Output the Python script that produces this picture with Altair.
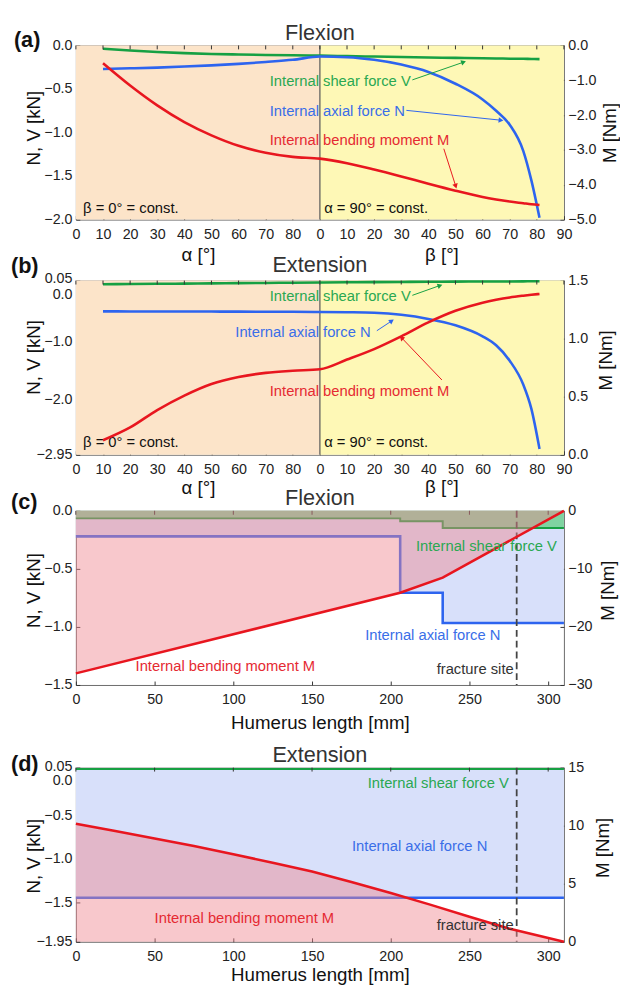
import math
import altair as alt
import pandas as pd

FONT = "Liberation Sans"
W, H = 496, 177

# ---------------- data ----------------
alpha_deg = [10, 20, 30, 40, 50, 60, 70, 80, 90]
beta_deg = [0, 10, 20, 30, 40, 50, 60, 65, 70, 75, 78, 81]

# (a) Flexion, angle study
flex_V_alpha = [-0.037, -0.058, -0.075, -0.088, -0.098, -0.104, -0.109, -0.113, -0.116]
flex_V_beta = [-0.118, -0.123, -0.128, -0.133, -0.138, -0.143, -0.148, -0.150, -0.152, -0.154, -0.155, -0.157]
flex_N_alpha = [-0.27, -0.263, -0.255, -0.243, -0.229, -0.212, -0.19, -0.165, -0.128]
flex_N_beta = [-0.128, -0.135, -0.165, -0.22, -0.305, -0.44, -0.62, -0.75, -0.91, -1.21, -1.55, -1.98]
flex_M_alpha = [-0.51, -1.15, -1.72, -2.2, -2.58, -2.88, -3.08, -3.2, -3.25]
flex_M_beta = [-3.25, -3.38, -3.56, -3.76, -3.97, -4.17, -4.35, -4.42, -4.48, -4.53, -4.56, -4.58]

# (b) Extension, angle study
ext_V_alpha = [-0.012, -0.009, -0.006, -0.002, 0.002, 0.006, 0.01, 0.014, 0.018]
ext_V_beta = [0.018, 0.021, 0.024, 0.027, 0.03, 0.032, 0.034, 0.035, 0.036, 0.037, 0.038, 0.04]
ext_N_alpha = [-0.48, -0.481, -0.482, -0.483, -0.484, -0.485, -0.487, -0.488, -0.49]
ext_N_beta = [-0.49, -0.495, -0.505, -0.54, -0.61, -0.72, -0.91, -1.065, -1.33, -1.74, -2.16, -2.85]
ext_M_alpha = [0.125, 0.235, 0.385, 0.51, 0.61, 0.67, 0.705, 0.724, 0.737]
ext_M_beta = [0.737, 0.82, 0.91, 1.02, 1.14, 1.24, 1.31, 1.335, 1.355, 1.37, 1.378, 1.385]

# (c) Flexion along humerus
flex_len_mm = [0, 206, 233, 310]
flex_V_len = [-0.065, -0.09, -0.147, -0.147]
flex_N_len = [-0.22, -0.706, -0.966, -0.966]
flex_M_len = [-28.0, -14.1, -11.5, 0.0]

# (d) Extension along humerus
ext_force_mm = [0, 310]
ext_V_len = [0.035, 0.035]
ext_N_len = [-1.445, -1.445]
ext_moment_mm = [0, 25, 50, 75, 100, 125, 150, 175, 200, 225, 250, 275, 310]
ext_M_len = [10.17, 9.55, 8.9, 8.25, 7.55, 6.8, 6.05, 5.15, 4.2, 3.2, 2.15, 1.15, 0.0]

fracture_mm = 280
angle_ticks = list(range(0, 181, 10))
mm_ticks = [0, 50, 100, 150, 200, 250, 300]

# ---------------- style ----------------
GREEN, BLUE, RED = "#16a043", "#2d64ef", "#e8161f"
GREEN_T, BLUE_T, RED_T = "#2aa852", "#3a6ee8", "#e52a32"
PEACH, YELLOW = "#fce4c9", "#fef8b6"
G_AREA, B_AREA, R_AREA = "#7fd3a1", "#d8e0fa", "#ef858f"


def axis_x(values, title, title_x, title_y, label_expr):
    return alt.Axis(orient="bottom", values=values, title=title, titleX=title_x, titleY=title_y,
                    titleAlign="center", titleBaseline="alphabetic", titleFont=FONT,
                    titleFontSize=19, titleFontWeight="normal", titleColor="#111",
                    labelFont=FONT, labelFontSize=14.5, labelColor="#222", labelPadding=8,
                    labelFlush=False, labelOverlap=False, labelExpr=label_expr,
                    tickSize=4, tickColor="#333", tickWidth=1, offset=-4,
                    domain=False, grid=False)


def axis_y(orient, values, title, title_x, title_dy, label_expr, label_baseline=None,
           label_offset=None):
    kw = dict(orient=orient, values=values, title=title, titleAngle=270, titleX=title_x,
              titleY=H / 2 + title_dy, titleAlign="center", titleBaseline="middle",
              titleFont=FONT, titleFontSize=19, titleFontWeight="normal", titleColor="#111",
              labelFont=FONT, labelFontSize=14.5, labelColor="#222", labelPadding=4,
              labelOverlap=False, labelExpr=label_expr, tickSize=4, tickColor="#333",
              tickWidth=1, offset=-4, domain=False, grid=False)
    if label_baseline is not None:
        kw["labelBaseline"] = label_baseline
    if label_offset is not None:
        kw["labelOffset"] = label_offset
    return alt.Axis(**kw)


def lin(domain):
    return alt.Scale(domain=domain, nice=False, zero=False)


class Ctx:
    def __init__(self, scX, axX, scY, axY):
        self.scX, self.axX, self.scY, self.axY = scX, axX, scY, axY

    def X(self, f):
        return alt.X(f + ":Q", scale=self.scX, axis=self.axX)

    def Y(self, f):
        return alt.Y(f + ":Q", scale=self.scY, axis=self.axY)


def line(c, df, yf, color, width, interp="monotone"):
    return alt.Chart(df).mark_line(color=color, strokeWidth=width, interpolate=interp).encode(
        x=c.X("x"), y=c.Y(yf))


def area(c, df, yf, y2f, color, opacity, interp="linear"):
    return alt.Chart(df).mark_area(color=color, opacity=opacity, interpolate=interp).encode(
        x=c.X("x"), y=c.Y(yf), y2=alt.Y2(y2f))


def texts(c, rows, color, align="left", size=15):
    return alt.Chart(pd.DataFrame(rows)).mark_text(
        align=align, baseline="middle", font=FONT, fontSize=size, color=color).encode(
        x=c.X("x"), y=c.Y("y"), text="t:N")


def arrow(c, xa, ya, xb, yb, color, sx, sy):
    ang = math.degrees(math.atan2(-(yb - ya) * sy, (xb - xa) * sx)) % 360
    df = pd.DataFrame({"xa": [xa], "ya": [ya], "x": [xb], "y": [yb], "ang": [ang]})
    rule = alt.Chart(df).mark_rule(color=color, strokeWidth=1).encode(
        x=c.X("xa"), x2=alt.X2("x"), y=c.Y("ya"), y2=alt.Y2("y"))
    head = alt.Chart(df).mark_point(shape="triangle-right", filled=True, size=32,
                                    color=color, opacity=1, strokeWidth=0).encode(
        x=c.X("x"), y=c.Y("y"), angle=alt.Angle("ang:Q", scale=None))
    return [rule, head]


def top_ticks(c, ticks):
    return alt.Chart(pd.DataFrame({"x": ticks})).mark_rule(color="#333", strokeWidth=1).encode(
        x=c.X("x"), y=alt.value(0), y2=alt.value(4))


def vrule(c, xv, color, dash=None, width=1.0):
    kw = dict(color=color, strokeWidth=width)
    if dash is not None:
        kw["strokeDash"] = dash
    return alt.Chart(pd.DataFrame({"x": [xv]})).mark_rule(**kw).encode(x=c.X("x"))


def label(txt, xpx, ypx, size, weight="normal", color="#111", align="left"):
    return alt.Chart(pd.DataFrame({"t": [txt]})).mark_text(
        align=align, baseline="alphabetic", font=FONT, fontSize=size, fontWeight=weight,
        color=color).encode(x=alt.value(xpx), y=alt.value(ypx), text="t:N")


def angle_df(Va, Vb, Na, Nb, Ma, Mb):
    xs = alpha_deg + [90 + b for b in beta_deg[1:]]
    return pd.DataFrame({"x": xs, "V": Va + Vb[1:], "N": Na + Nb[1:], "M": Ma + Mb[1:]})


ANGLE_EXPR = "format(datum.value < 90 ? datum.value : datum.value - 90, 'd')"


def angle_panel(tag, title, df, yL_dom, yL_vals, yL_expr, yL_base, yL_off, yR_dom, yR_vals,
                tdyL, txR, tdyR, x_title_y, tag_dy, title_dy, const_y, notes, arrows):
    scX = lin([0, 180])
    axX = axis_x(angle_ticks, "α [°]", W * 0.25, x_title_y, ANGLE_EXPR)
    L = Ctx(scX, axX, lin(yL_dom), axis_y("left", yL_vals, "N, V  [kN]", -47, tdyL, yL_expr,
                                          yL_base, yL_off))
    R = Ctx(scX, axX, lin(yR_dom), axis_y("right", yR_vals, "M [Nm]", txR, tdyR,
                                         "format(datum.value, '.1f')"))
    bg = pd.DataFrame({"x": [0, 90], "x2": [90, 180], "y0": [yL_dom[0]] * 2,
                       "y1": [yL_dom[1]] * 2, "c": [PEACH, YELLOW]})
    left = [
        alt.Chart(bg).mark_rect().encode(x=L.X("x"), x2=alt.X2("x2"), y=L.Y("y0"),
                                          y2=alt.Y2("y1"), color=alt.Color("c:N", scale=None)),
        vrule(L, 90, "#555", width=1.2),
        line(L, df, "V", GREEN, 2.6),
        line(L, df, "N", BLUE, 2.6),
        top_ticks(L, angle_ticks),
        texts(L, [{"x": 2.65, "y": const_y, "t": "β = 0° = const."},
                  {"x": 91.6, "y": const_y, "t": "α = 90° = const."}], "#111"),
        alt.Chart(pd.DataFrame({"x": [135], "t": ["β [°]"]})).mark_text(
            align="center", baseline="alphabetic", font=FONT, fontSize=19, color="#111").encode(
            x=L.X("x"), y=alt.value(H + x_title_y - 4), text="t:N"),
        label(tag, -66 if tag != "(a)" else -63, tag_dy, 22, "bold"),
        label(title, W / 2, title_dy, 22, color="#333", align="center"),
    ]
    sx, sy = W / 180.0, H / (yR_dom[1] - yR_dom[0])
    right = [line(R, df, "M", RED, 2.6)]
    for (rows, col) in notes:
        right.append(texts(R, rows, col))
    for (xa, ya, xb, yb, col) in arrows:
        right += arrow(R, xa, ya, xb, yb, col, sx, sy)
    return alt.layer(alt.layer(*left), alt.layer(*right)).resolve_scale(y="independent").properties(
        width=W, height=H)


def length_panel(tag, title, fdf, mdf, yL_dom, yL_vals, yL_expr, yL_base, yL_off, yR_dom, yR_vals,
                 tdyL, txR, tdyR, x_title_y, tag_dy, title_dy, notes, interp):
    scX = lin([0, 310])
    axX = axis_x(mm_ticks, "Humerus length [mm]", W / 2, x_title_y, "format(datum.value, 'd')")
    L = Ctx(scX, axX, lin(yL_dom), axis_y("left", yL_vals, "N, V  [kN]", -47, tdyL, yL_expr,
                                          yL_base, yL_off))
    R = Ctx(scX, axX, lin(yR_dom), axis_y("right", yR_vals, "M [Nm]", txR, tdyR,
                                         "format(datum.value, 'd')"))
    left = [
        area(L, fdf, "V", "zero", G_AREA, 1, interp),
        area(L, fdf, "N", "V", B_AREA, 1, interp),
        line(L, fdf, "V", GREEN, 2.0, interp),
        line(L, fdf, "N", BLUE, 2.6, interp),
        top_ticks(L, mm_ticks),
        vrule(L, fracture_mm, "#444", dash=[7, 4], width=1.8),
        label(tag, -66, tag_dy, 22, "bold"),
        label(title, W / 2, title_dy, 22, color="#333", align="center"),
    ]
    right = [
        area(R, mdf, "M", "zero", R_AREA, 0.45, "linear"),
        line(R, mdf, "M", RED, 2.6, "linear"),
    ]
    for (rows, col, al) in notes:
        right.append(texts(R, rows, col, al))
    return alt.layer(alt.layer(*left), alt.layer(*right)).resolve_scale(y="independent").properties(
        width=W, height=H)


zero_top = {"condition": {"test": "datum.value == 0", "value": "top"}, "value": "middle"}
off_b = {"condition": [{"test": "datum.value == 0", "value": 4},
                       {"test": "datum.value == 0.05", "value": -2.5}], "value": 0}
off_d = {"condition": [{"test": "datum.value == 0", "value": 2},
                       {"test": "datum.value == 0.05", "value": -1.5}], "value": 0}

# ---- panel (a)
df_a = angle_df(flex_V_alpha, flex_V_beta, flex_N_alpha, flex_N_beta, flex_M_alpha, flex_M_beta)
p_a = angle_panel(
    "(a)", "Flexion", df_a, [-2, 0], [-2, -1.5, -1, -0.5, 0], "format(datum.value, '.1f')", None, None,
    [-5, 0], [-5, -4, -3, -2, -1, 0], -5, 50, 0, 46, 2, -6, -1.864,
    [([{"x": 71.5, "y": -1.017, "t": "Internal shear force V"}], GREEN_T),
     ([{"x": 71.5, "y": -1.893, "t": "Internal axial force N"}], BLUE_T),
     ([{"x": 71.5, "y": -2.712, "t": "Internal bending moment M"}], RED_T)],
    [(124.1, -0.989, 143.0, -0.48, GREEN), (121.9, -1.864, 156.8, -2.147, BLUE),
     (135.7, -2.966, 140.1, -4.04, RED)])

# ---- panel (b)
df_b = angle_df(ext_V_alpha, ext_V_beta, ext_N_alpha, ext_N_beta, ext_M_alpha, ext_M_beta)
p_b = angle_panel(
    "(b)", "Extension", df_b, [-2.95, 0.05], [0.05, 0, -1, -2, -2.95],
    "format(datum.value, (datum.value == 0.05 || datum.value == -2.95) ? '.2f' : '.1f')",
    zero_top, off_b,
    [0, 1.5], [0, 0.5, 1, 1.5], -11, 46, -8, 43, -8, -9, -2.725,
    [([{"x": 71.5, "y": 1.364, "t": "Internal shear force V"}], GREEN_T),
     ([{"x": 58.8, "y": 1.059, "t": "Internal axial force N"}], BLUE_T),
     ([{"x": 71.5, "y": 0.551, "t": "Internal bending moment M"}], RED_T)],
    [(124.1, 1.373, 134.3, 1.458, GREEN), (111.0, 1.068, 116.5, 1.153, BLUE),
     (135.0, 0.644, 120.1, 1.008, RED)])

# ---- panel (c)
fdf_c = pd.DataFrame({"x": flex_len_mm, "V": flex_V_len, "N": flex_N_len, "zero": 0.0})
mdf_c = pd.DataFrame({"x": flex_len_mm, "M": flex_M_len, "zero": 0.0})
p_c = length_panel(
    "(c)", "Flexion", fdf_c, mdf_c, [-1.5, 0], [-1.5, -1, -0.5, 0], "format(datum.value, '.1f')",
    None, None,
    [-30, 0], [-30, -20, -10, 0], -8, 48, -8, 48, -2, -6,
    [([{"x": 216, "y": -6.10, "t": "Internal shear force V"}], GREEN_T, "left"),
     ([{"x": 183.75, "y": -21.36, "t": "Internal axial force N"}], BLUE_T, "left"),
     ([{"x": 37.9, "y": -26.78, "t": "Internal bending moment M"}], RED_T, "left"),
     ([{"x": 278.1, "y": -27.29, "t": "fracture site"}], "#333", "right")],
    "step-after")

# ---- panel (d)
fdf_d = pd.DataFrame({"x": ext_force_mm, "V": ext_V_len, "N": ext_N_len, "zero": 0.0})
mdf_d = pd.DataFrame({"x": ext_moment_mm, "M": ext_M_len, "zero": 0.0})
p_d = length_panel(
    "(d)", "Extension", fdf_d, mdf_d, [-1.95, 0.05], [0.05, 0, -0.5, -1, -1.5, -1.95],
    "format(datum.value, (datum.value == 0.05 || datum.value == -1.95) ? '.2f' : '.1f')",
    zero_top, off_d,
    [0, 15], [0, 5, 10, 15], 1, 43, -7.5, 43, 3, -6,
    [([{"x": 185.4, "y": 13.67, "t": "Internal shear force V"}], GREEN_T, "left"),
     ([{"x": 175.4, "y": 8.25, "t": "Internal axial force N"}], BLUE_T, "left"),
     ([{"x": 50, "y": 2.03, "t": "Internal bending moment M"}], RED_T, "left"),
     ([{"x": 278.1, "y": 1.44, "t": "fracture site"}], "#333", "right")],
    "step-after")


def spacer(h):
    return alt.Chart(pd.DataFrame({"x": [0]})).mark_point(opacity=0).encode(
        x=alt.value(0), y=alt.value(0)).properties(
        width=W, height=h, view=alt.ViewBackground(stroke="transparent"))


chart = alt.vconcat(p_a, spacer(62), p_b, spacer(57), p_c, spacer(84), p_d,
                    spacing=0, bounds="flush").properties(
    padding={"left": 2, "top": 5, "right": 0, "bottom": 0}
).configure_view(stroke="#6a6a6a", strokeWidth=1)

chart.save("out.html", embed_options={"renderer": "svg", "actions": False})
